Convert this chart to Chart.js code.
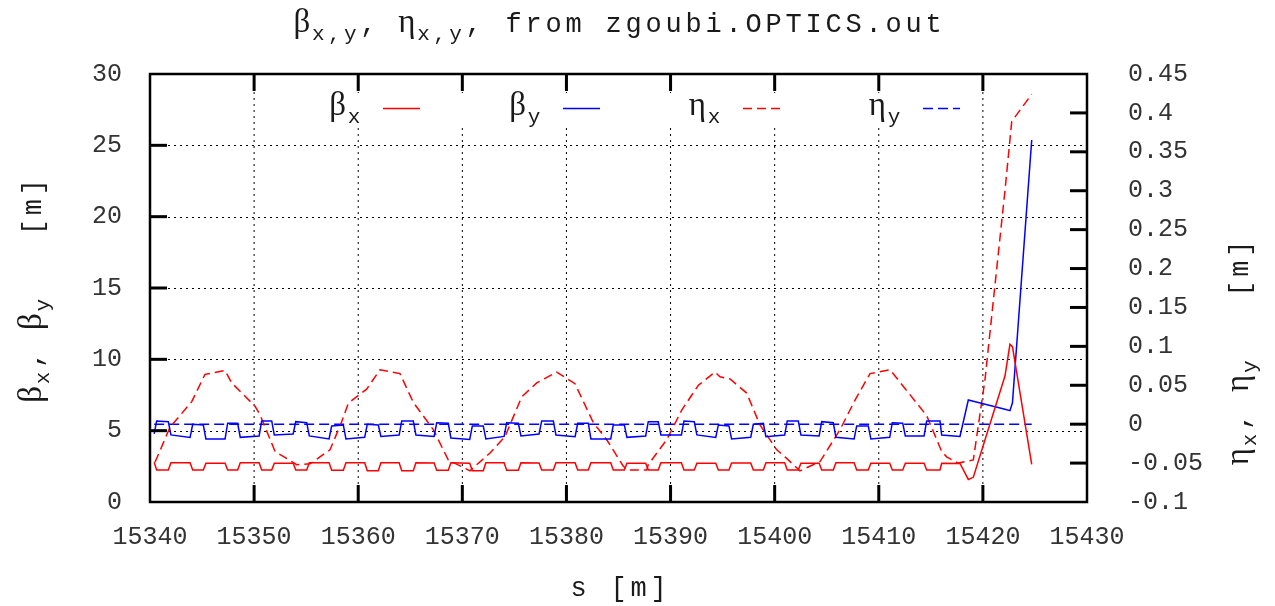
<!DOCTYPE html>
<html lang="en">
<head>
<meta charset="UTF-8">
<title>beta / eta from zgoubi.OPTICS.out</title>
<script src="https://cdn.jsdelivr.net/npm/chart.js"></script>
<style>
  html, body { margin: 0; padding: 0; background: #fff; }
  #optics { display: block; }
</style>
</head>
<body>
<canvas id="optics" width="1275" height="606"></canvas>
<script>
// s positions [m] shared by the two beta functions
const sBeta = [
  15340.40, 15340.64, 15341.76, 15342.01,
  15343.85, 15344.10, 15345.12, 15345.37,
  15347.21, 15347.46, 15348.42, 15348.67,
  15350.48, 15350.73, 15351.69, 15351.94,
  15353.75, 15354.00, 15355.05, 15355.30,
  15357.20, 15357.45, 15358.57, 15358.82,
  15360.62, 15360.87, 15361.93, 15362.18,
  15363.93, 15364.18, 15365.29, 15365.54,
  15367.29, 15367.54, 15368.65, 15368.90,
  15370.71, 15370.96, 15372.01, 15372.26,
  15374.01, 15374.26, 15375.38, 15375.63,
  15377.37, 15377.62, 15378.74, 15378.99,
  15380.83, 15381.08, 15382.10, 15382.35,
  15384.25, 15384.50, 15385.56, 15385.81,
  15387.61, 15387.86, 15388.82, 15389.07,
  15391.04, 15391.29, 15392.28, 15392.53,
  15394.34, 15394.59, 15395.61, 15395.86,
  15397.70, 15397.95, 15398.91, 15399.16,
  15400.96, 15401.21, 15402.27, 15402.52,
  15404.27, 15404.52, 15405.63, 15405.88,
  15407.63, 15407.88, 15408.99, 15409.24,
  15411.05, 15411.30, 15412.30, 15412.55,
  15414.35, 15414.60, 15415.88, 15416.04,
  15417.80, 15418.60, 15419.08, 15422.12, 15422.60, 15422.84, 15424.69
];
const betaX = [
  2.78, 2.24, 2.24, 2.75,
  2.75, 2.24, 2.24, 2.71,
  2.71, 2.24, 2.24, 2.75,
  2.75, 2.24, 2.24, 2.71,
  2.71, 2.24, 2.24, 2.75,
  2.75, 2.22, 2.22, 2.75,
  2.75, 2.19, 2.19, 2.75,
  2.75, 2.19, 2.19, 2.75,
  2.73, 2.22, 2.22, 2.75,
  2.71, 2.19, 2.19, 2.75,
  2.75, 2.22, 2.22, 2.75,
  2.73, 2.24, 2.24, 2.75,
  2.75, 2.24, 2.24, 2.75,
  2.75, 2.24, 2.24, 2.71,
  2.71, 2.24, 2.24, 2.75,
  2.75, 2.24, 2.24, 2.71,
  2.71, 2.24, 2.24, 2.73,
  2.73, 2.24, 2.24, 2.75,
  2.75, 2.24, 2.24, 2.71,
  2.71, 2.24, 2.24, 2.75,
  2.75, 2.24, 2.24, 2.71,
  2.71, 2.24, 2.24, 2.71,
  2.71, 2.24, 2.24, 2.71,
  2.70, 1.58, 1.73, 8.83, 11.05, 10.89, 2.64
];
const betaY = [
  4.77, 5.68, 5.63, 4.70,
  4.53, 5.45, 5.40, 4.42,
  4.42, 5.52, 5.52, 4.53,
  4.63, 5.68, 5.68, 4.70,
  4.77, 5.63, 5.56, 4.63,
  4.42, 5.33, 5.40, 4.42,
  4.53, 5.45, 5.40, 4.60,
  4.70, 5.68, 5.68, 4.70,
  4.60, 5.56, 5.52, 4.49,
  4.38, 5.33, 5.33, 4.42,
  4.60, 5.56, 5.52, 4.63,
  4.77, 5.68, 5.68, 4.70,
  4.58, 5.52, 5.52, 4.42,
  4.42, 5.40, 5.40, 4.53,
  4.63, 5.63, 5.63, 4.70,
  4.70, 5.68, 5.63, 4.70,
  4.53, 5.40, 5.33, 4.42,
  4.53, 5.45, 5.52, 4.58,
  4.70, 5.68, 5.68, 4.70,
  4.63, 5.63, 5.56, 4.53,
  4.42, 5.33, 5.33, 4.42,
  4.53, 5.56, 5.52, 4.63,
  4.63, 5.68, 5.68, 4.70,
  4.60, 7.15, 7.06, 6.50, 6.40, 6.95, 25.37
];
// horizontal dispersion, read at its own vertices
const sEtaX = [
  15340.48, 15341.92, 15344.01, 15345.28, 15347.20, 15347.85, 15350.09, 15350.57,
  15352.01, 15354.09, 15355.37, 15357.29, 15358.41, 15359.05, 15360.81, 15362.09,
  15364.01, 15365.29, 15367.21, 15368.65, 15370.74, 15371.22, 15372.66, 15374.10,
  15375.70, 15377.14, 15379.06, 15380.82, 15382.58, 15383.87, 15385.46, 15385.91,
  15387.71, 15387.86, 15389.63, 15391.07, 15392.67, 15394.27, 15394.75, 15395.71,
  15397.31, 15398.59, 15400.20, 15400.99, 15402.43, 15404.36, 15406.28, 15407.72,
  15409.16, 15411.08, 15414.60, 15416.04, 15416.52, 15417.61, 15419.08, 15420.20,
  15422.12, 15422.77, 15424.69
];
const etaX = [
  -0.049, -0.004, 0.029, 0.064, 0.069, 0.053, 0.023, 0.012,
  -0.035, -0.052, -0.051, -0.033, 0.003, 0.027, 0.045, 0.070,
  0.065, 0.028, -0.007, -0.046, -0.060, -0.054, -0.037, -0.016,
  0.035, 0.053, 0.067, 0.052, 0.002, -0.020, -0.054, -0.059,
  -0.059, -0.052, -0.020, 0.018, 0.050, 0.067, 0.061, 0.058,
  0.040, -0.001, -0.033, -0.042, -0.060, -0.048, -0.007, 0.031,
  0.065, 0.070, 0.011, -0.035, -0.042, -0.050, -0.046, 0.057,
  0.300, 0.389, 0.424
];
// vertical dispersion is flat zero along the line
const sEtaY = [15340.40, 15424.69];
const etaY = [0.0, 0.0];

const sTicks = [15340, 15350, 15360, 15370, 15380, 15390, 15400, 15410, 15420, 15430];
const betaTicks = [0, 5, 10, 15, 20, 25, 30];
const etaTicks = [-0.1, -0.05, 0, 0.05, 0.1, 0.15, 0.2, 0.25, 0.3, 0.35, 0.4, 0.45];
const etaTickLabels = ['-0.1', '-0.05', '0', '0.05', '0.1', '0.15', '0.2', '0.25', '0.3', '0.35', '0.4', '0.45'];

const SERIF = '"Liberation Serif", "DejaVu Serif", serif';
const MONO = '"Liberation Mono", "DejaVu Sans Mono", monospace';
const TXT = '#1a1a1a';

const pts = (xs, ys) => xs.map((x, i) => ({ x: x, y: ys[i] }));

// text pieces: greek (serif), big mono, subscript mono
const G = t => ({ t: t, f: '33px ' + SERIF });
const B = t => ({ t: t, f: '27px ' + MONO, adv: 20 });
const S = t => ({ t: t, f: '21px ' + MONO, adv: 16, dy: 8 });

function runWidth(ctx, r) {
  ctx.font = r.f;
  return r.adv ? r.t.length * r.adv : ctx.measureText(r.t).width;
}

function drawRuns(ctx, runs, x, y, align) {
  const total = runs.reduce((w, r) => w + runWidth(ctx, r), 0);
  let cx = align === 'center' ? x - total / 2 : (align === 'right' ? x - total : x);
  ctx.textAlign = 'left';
  ctx.textBaseline = 'alphabetic';
  runs.forEach(r => {
    ctx.font = r.f;
    const dy = r.dy || 0;
    if (r.adv) {
      for (let i = 0; i < r.t.length; i++) {
        const cw = ctx.measureText(r.t[i]).width;
        ctx.fillText(r.t[i], cx + i * r.adv + (r.adv - cw) / 2, y + dy);
      }
    } else {
      ctx.fillText(r.t, cx, y + dy);
    }
    cx += runWidth(ctx, r);
  });
}

const gnuFrame = {
  id: 'gnuFrame',
  beforeDatasetsDraw(chart) {
    const { ctx, chartArea: a, scales } = chart;
    ctx.save();
    ctx.strokeStyle = '#000';
    ctx.lineWidth = 1;
    ctx.setLineDash([2, 4]);
    sTicks.slice(1, -1).forEach(v => {
      const x = scales.x.getPixelForValue(v);
      ctx.beginPath(); ctx.moveTo(x, a.top); ctx.lineTo(x, a.bottom); ctx.stroke();
    });
    betaTicks.slice(1, -1).forEach(v => {
      const y = Math.round(scales.y.getPixelForValue(v)) + 0.5;
      ctx.beginPath(); ctx.moveTo(a.left, y); ctx.lineTo(a.right, y); ctx.stroke();
    });
    ctx.restore();
  },
  afterDatasetsDraw(chart) {
    const { ctx, chartArea: a, scales } = chart;
    ctx.save();
    // opaque key
    ctx.fillStyle = '#fff';
    ctx.fillRect(300, 93, 675, 35);
    const entries = [
      { g: 'β', s: 'x', ds: 0 },
      { g: 'β', s: 'y', ds: 1 },
      { g: 'η', s: 'x', ds: 2 },
      { g: 'η', s: 'y', ds: 3 }
    ];
    entries.forEach((e, i) => {
      const end = 362 + 180 * i;
      const x0 = 383 + 180 * i;
      ctx.fillStyle = TXT;
      drawRuns(ctx, [G(e.g), { t: e.s, f: '21px ' + MONO, adv: 16, dy: 8 }], end, 115, 'right');
      const ds = chart.data.datasets[e.ds];
      ctx.strokeStyle = ds.borderColor;
      ctx.lineWidth = ds.borderWidth;
      ctx.setLineDash(ds.borderDash || []);
      ctx.beginPath(); ctx.moveTo(x0, 108.5); ctx.lineTo(x0 + 37, 108.5); ctx.stroke();
    });
    ctx.setLineDash([]);
    // border
    ctx.strokeStyle = '#000';
    ctx.lineWidth = 2.5;
    ctx.strokeRect(a.left, a.top, a.right - a.left, a.bottom - a.top);
    // inward tick marks
    ctx.lineWidth = 3;
    const tl = 17;
    sTicks.slice(1, -1).forEach(v => {
      const x = scales.x.getPixelForValue(v);
      ctx.beginPath();
      ctx.moveTo(x, a.bottom); ctx.lineTo(x, a.bottom - tl);
      ctx.moveTo(x, a.top); ctx.lineTo(x, a.top + tl);
      ctx.stroke();
    });
    betaTicks.slice(1, -1).forEach(v => {
      const y = scales.y.getPixelForValue(v);
      ctx.beginPath(); ctx.moveTo(a.left, y); ctx.lineTo(a.left + tl, y); ctx.stroke();
    });
    etaTicks.slice(1, -1).forEach(v => {
      const y = scales.y2.getPixelForValue(v);
      ctx.beginPath(); ctx.moveTo(a.right, y); ctx.lineTo(a.right - tl, y); ctx.stroke();
    });
    ctx.restore();
  },
  afterDraw(chart) {
    const { ctx, chartArea: a } = chart;
    const mid = (a.left + a.right) / 2;
    ctx.save();
    ctx.fillStyle = TXT;
    drawRuns(ctx, [G('β'), S('x,y'), B(', '), G('η'), S('x,y'), B(', from zgoubi.OPTICS.out')], mid, 32, 'center');
    drawRuns(ctx, [B('s [m]')], mid, 596, 'center');
    ctx.translate(41, 290);
    ctx.rotate(-Math.PI / 2);
    drawRuns(ctx, [G('β'), S('x'), B(', '), G('β'), S('y'), B('   [m]')], 0, 0, 'center');
    ctx.restore();
    ctx.save();
    ctx.fillStyle = TXT;
    ctx.translate(1248, 352);
    ctx.rotate(-Math.PI / 2);
    drawRuns(ctx, [G('η'), S('x'), B(', '), G('η'), S('y'), B('   [m]')], 0, 0, 'center');
    ctx.restore();
  }
};

const tickFont = { family: MONO, size: 25 };
const TICK = '#333';

new Chart(document.getElementById('optics'), {
  type: 'scatter',
  data: {
    datasets: [
      { label: 'beta_x', data: pts(sBeta, betaX), yAxisID: 'y', borderColor: '#ff0000', borderWidth: 1.5 },
      { label: 'beta_y', data: pts(sBeta, betaY), yAxisID: 'y', borderColor: '#0000ff', borderWidth: 1.5 },
      { label: 'eta_x', data: pts(sEtaX, etaX), yAxisID: 'y2', borderColor: '#ff0000', borderWidth: 1.5, borderDash: [9, 5] },
      { label: 'eta_y', data: pts(sEtaY, etaY), yAxisID: 'y2', borderColor: '#0000ff', borderWidth: 1.5, borderDash: [10, 5] }
    ].map(d => Object.assign(d, { showLine: true, pointRadius: 0, tension: 0, fill: false }))
  },
  options: {
    responsive: false,
    animation: false,
    devicePixelRatio: 1,
    layout: { padding: { top: 74, right: 68, left: 0, bottom: 0 } },
    plugins: { legend: { display: false }, tooltip: { enabled: false }, title: { display: false } },
    scales: {
      x: {
        type: 'linear', min: 15340, max: 15430,
        afterBuildTicks: s => { s.ticks = sTicks.map(v => ({ value: v })); },
        afterFit: s => { s.height = 104; },
        grid: { display: false, drawTicks: false }, border: { display: false },
        ticks: { font: tickFont, color: TICK, padding: 20, maxRotation: 0, autoSkip: false, callback: v => String(v) }
      },
      y: {
        position: 'left', min: 0, max: 30,
        afterBuildTicks: s => { s.ticks = betaTicks.map(v => ({ value: v })); },
        afterFit: s => { s.width = 150; },
        grid: { display: false, drawTicks: false }, border: { display: false },
        ticks: { font: tickFont, color: TICK, padding: 28, callback: v => String(v) }
      },
      y2: {
        position: 'right', min: -0.1, max: 0.45,
        afterBuildTicks: s => { s.ticks = etaTicks.map(v => ({ value: v })); },
        afterFit: s => { s.width = 120; },
        grid: { display: false, drawTicks: false }, border: { display: false },
        ticks: { font: tickFont, color: TICK, padding: 41, callback: (v, i) => etaTickLabels[i] }
      }
    }
  },
  plugins: [gnuFrame]
});
</script>
</body>
</html>
